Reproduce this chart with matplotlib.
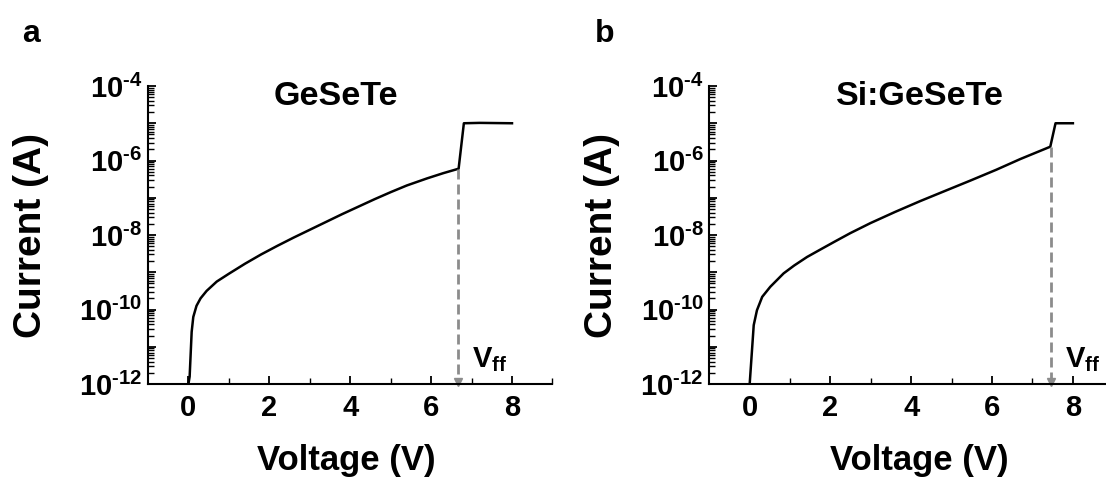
import numpy as np
import matplotlib
matplotlib.use('Agg')
from matplotlib import pyplot as plt
from matplotlib.ticker import LogLocator, NullFormatter

plt.rcParams['font.family'] = ['Liberation Sans', 'DejaVu Sans']
plt.rcParams['font.weight'] = 'bold'
plt.rcParams['axes.labelweight'] = 'bold'
plt.rcParams['mathtext.fontset'] = 'custom'
plt.rcParams['mathtext.rm'] = 'Liberation Sans:bold'
plt.rcParams['mathtext.bf'] = 'Liberation Sans:bold'
plt.rcParams['mathtext.it'] = 'Liberation Sans:bold'
plt.rcParams['mathtext.default'] = 'bf'

panel_tags = ['a', 'b']
materials = ['GeSeTe', 'Si:GeSeTe']

# voltage (V) and log10 of current (A)
v_a = [0.0, 0.03, 0.08, 0.12, 0.2, 0.3, 0.45, 0.7, 1.0, 1.4, 1.8, 2.2, 2.6, 3.0, 3.4, 3.8, 4.2, 4.6,
       5.0, 5.4, 5.9, 6.3, 6.68, 6.81, 7.2, 8.0]
logi_a = [-12, -11.8, -10.6, -10.2, -9.9, -9.7, -9.5, -9.25, -9.04, -8.77, -8.52, -8.29, -8.07, -7.86,
          -7.65, -7.44, -7.24, -7.04, -6.85, -6.67, -6.48, -6.34, -6.22, -5.0, -4.99, -5.0]

v_b = [0.0, 0.1, 0.18, 0.31, 0.51, 0.84, 1.1, 1.42, 1.75, 2.1, 2.49, 2.99, 3.6, 4.22, 4.85, 5.46, 6.1,
       6.7, 7.44, 7.57, 8.0]
logi_b = [-12, -10.42, -10.02, -9.66, -9.39, -9.03, -8.82, -8.59, -8.39, -8.18, -7.95, -7.68, -7.38,
          -7.09, -6.81, -6.54, -6.25, -5.96, -5.63, -5.0, -5.0]

vff_v = [6.67, 7.47]
vff_logi = [-6.22, -5.63]

x_major = [0, 2, 4, 6, 8]
x_minor = [1, 3, 5, 7, 9]
y_exps = [-12, -11, -10, -9, -8, -7, -6, -5, -4]
y_labels = ['$10^{\u2010%d}$' % -e if e % 2 == 0 else '' for e in y_exps]

fig = plt.figure(figsize=(11.06, 4.84), dpi=100)

ax_pos = [[0.1338, 0.2066, 0.3657, 0.6157], [0.6413, 0.2066, 0.3653, 0.6157]]
title_x = [3.64, 4.22]
ylab_x = [-0.29, -0.266]
xlab_x = [0.491, 0.519]
tag_x = [22, 595]

curves = [(v_a, logi_a), (v_b, logi_b)]

for i in range(2):
    ax = fig.add_axes(ax_pos[i])
    v, li = curves[i]
    ax.plot(v, 10.0 ** np.array(li), color='black', lw=1.8)
    ax.set_yscale('log')
    ax.set_xlim(-1, 9)
    ax.set_ylim(1e-12, 1e-4)

    # dashed marker for V_ff
    ax.plot([vff_v[i], vff_v[i]], [10.0 ** vff_logi[i], 1.3e-12], color='#8c8c8c',
            lw=2.0, dashes=(3.6, 1.8))
    ax.plot([vff_v[i]], [1.12e-12], marker='v', color='#8c8c8c', ms=6, clip_on=False)
    ax.text(vff_v[i] + 0.33, 10 ** -11.54, r'$\mathbf{V_{ff}}$', fontsize=21,
            ha='left', va='baseline')

    ax.text(title_x[i], 10 ** -4.52, materials[i], fontsize=24.5, ha='center', va='baseline')

    for s in ['top', 'right']:
        ax.spines[s].set_visible(False)
    for s in ['left', 'bottom']:
        ax.spines[s].set_linewidth(1.5)

    ax.set_xticks(x_major)
    ax.set_xticks(x_minor, minor=True)
    ax.set_yticks([10.0 ** e for e in y_exps])
    ax.set_yticklabels(y_labels)
    ax.yaxis.set_minor_locator(LogLocator(base=10, subs=np.arange(2, 10), numticks=30))
    ax.yaxis.set_minor_formatter(NullFormatter())
    ax.tick_params(which='major', direction='in', length=6, width=1.3, labelsize=21, pad=7)
    ax.tick_params(which='minor', direction='in', length=4, width=1.0)
    ax.tick_params(axis='y', which='major', pad=4)

    ax.set_xlabel('Voltage (V)', fontsize=25, fontweight='bold')
    ax.xaxis.set_label_coords(xlab_x[i], -0.258)
    ax.xaxis.label.set_va('center')
    ax.set_ylabel('Current (A)', fontsize=28, fontweight='bold')
    ax.yaxis.set_label_coords(ylab_x[i], 0.5)
    ax.yaxis.label.set_va('center')

    fig.text(tag_x[i] / 1106, 1 - 42 / 484, panel_tags[i], fontsize=23, ha='left', va='baseline')

fig.savefig('out.png', dpi=100)
